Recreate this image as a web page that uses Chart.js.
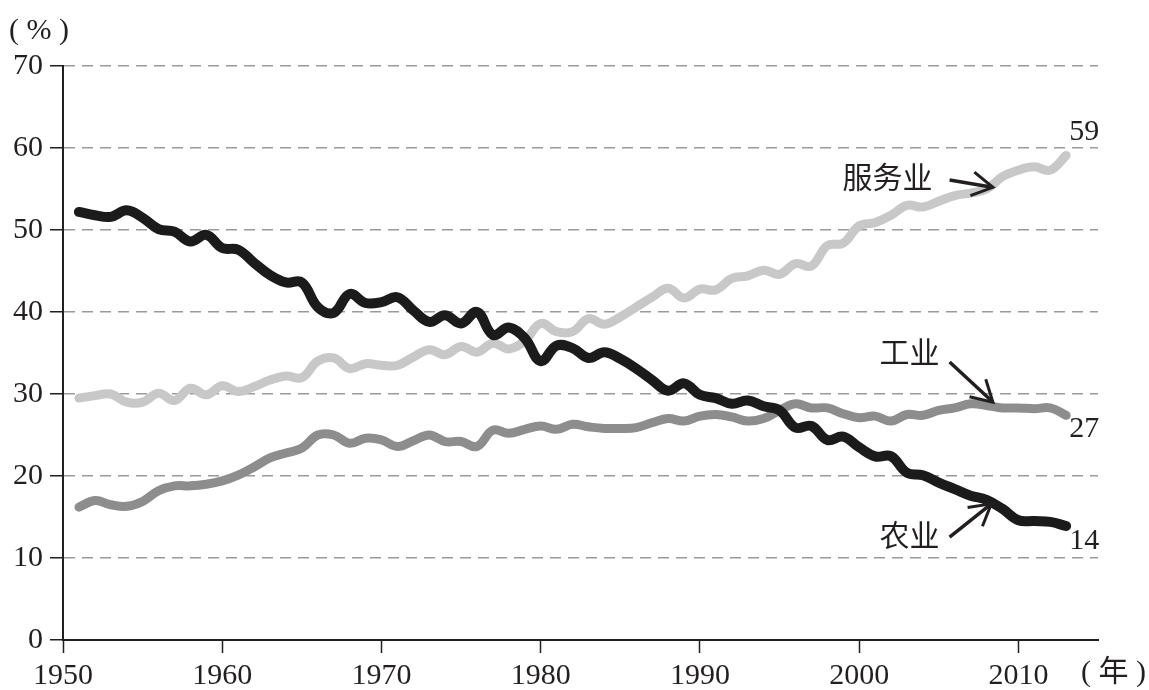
<!DOCTYPE html>
<html><head><meta charset="utf-8">
<script src="https://cdn.jsdelivr.net/npm/chart.js@4.4.1/dist/chart.umd.min.js"></script>
<style>html,body{margin:0;padding:0;background:#fff;}#wrap{width:1149px;height:690px;}</style>
</head><body><div id="wrap"><canvas id="c" width="1149" height="690"></canvas></div>
<script>
const years = [1951,1952,1953,1954,1955,1956,1957,1958,1959,1960,
1961,1962,1963,1964,1965,1966,1967,1968,1969,1970,
1971,1972,1973,1974,1975,1976,1977,1978,1979,1980,
1981,1982,1983,1984,1985,1986,1987,1988,1989,1990,
1991,1992,1993,1994,1995,1996,1997,1998,1999,2000,
2001,2002,2003,2004,2005,2006,2007,2008,2009,2010,
2011,2012,2013];
const agriculture = [52.2,51.8,51.6,52.4,51.5,50.1,49.8,48.6,49.4,47.8,
47.6,46.0,44.5,43.6,43.6,40.6,39.9,42.2,41.1,41.2,
41.8,40.2,38.8,39.6,38.6,40.0,37.2,38.1,36.8,34.0,
35.9,35.6,34.4,35.1,34.3,33.1,31.7,30.4,31.3,29.9,
29.5,28.8,29.2,28.5,28.0,25.9,26.1,24.4,24.8,23.5,
22.4,22.4,20.4,20.1,19.2,18.4,17.6,17.1,16.0,14.6,
14.5,14.4,13.9];
const industry = [16.2,17.0,16.5,16.3,16.9,18.2,18.8,18.8,19.0,19.4,
20.1,21.1,22.2,22.8,23.4,25.0,25.0,24.0,24.6,24.4,
23.6,24.3,25.0,24.2,24.2,23.6,25.6,25.2,25.7,26.1,
25.7,26.3,26.0,25.8,25.8,25.9,26.5,27.0,26.7,27.3,
27.5,27.2,26.7,27.0,28.0,28.8,28.3,28.3,27.6,27.1,
27.3,26.7,27.5,27.4,28.0,28.3,28.8,28.6,28.3,28.3,
28.2,28.3,27.4];
const services = [29.5,29.8,30.0,29.0,29.0,30.1,29.2,30.7,29.9,31.0,
30.3,30.9,31.7,32.2,32.0,34.0,34.4,33.1,33.7,33.5,
33.5,34.5,35.4,34.8,35.8,35.1,36.2,35.5,36.5,38.6,
37.6,37.6,39.2,38.5,39.4,40.6,41.8,42.9,41.7,42.8,
42.7,44.1,44.4,45.1,44.6,45.9,45.6,48.1,48.4,50.5,
50.9,51.8,53.0,52.8,53.5,54.2,54.5,55.0,56.5,57.3,
57.7,57.3,59.1];
const xTicks = [1950,1960,1970,1980,1990,2000,2010];
const yTicks = [0,10,20,30,40,50,60,70];
const seriesNames = ['农业','工业','服务业'];
const endLabels = ['14','27','59'];
const yUnit = '( % )';
const xUnit = '( 年 )';

const SERIF = '"Liberation Serif", "Times New Roman", serif';
const CJK = '"Noto Sans CJK SC", sans-serif';
const TXT = '#231f20';

function pts(vals){ return years.map((yr,i)=>({x:yr,y:vals[i]})); }

function arrow(ctx, x1,y1,x2,y2){
  ctx.lineWidth = 3.5;
  ctx.beginPath(); ctx.moveTo(x1,y1); ctx.lineTo(x2-2*Math.cos(Math.atan2(y2-y1,x2-x1)), y2-2*Math.sin(Math.atan2(y2-y1,x2-x1))); ctx.stroke();
  const a = Math.atan2(y2-y1,x2-x1), L=24, w=0.52;
  ctx.lineWidth = 3;
  ctx.beginPath();
  ctx.moveTo(x2-L*Math.cos(a-w), y2-L*Math.sin(a-w));
  ctx.lineTo(x2,y2);
  ctx.lineTo(x2-L*Math.cos(a+w), y2-L*Math.sin(a+w));
  ctx.stroke();
}

const annot = {
  id:'annot',
  afterDraw(chart){
    const {ctx, scales:{x,y}} = chart;
    const P = (yr,v)=>[x.getPixelForValue(yr), y.getPixelForValue(v)];
    ctx.save();
    ctx.fillStyle = TXT; ctx.strokeStyle = TXT;
    ctx.textBaseline = 'middle';
    ctx.font = '30px ' + SERIF + ', ' + CJK;
    ctx.textAlign = 'left';
    ctx.fillText(yUnit, 9, 31);
    ctx.fillText(xUnit, 1081, 673);
    // end value labels
    const n = years.length-1;
    const xe = x.getPixelForValue(years[n]) + 3;
    ctx.fillText(endLabels[2], xe, y.getPixelForValue(services[n]) - 23);
    ctx.fillText(endLabels[1], xe, y.getPixelForValue(industry[n]) + 14);
    ctx.fillText(endLabels[0], xe, y.getPixelForValue(agriculture[n]) + 15);
    // series names
    ctx.font = '30px ' + CJK;
    ctx.textAlign = 'right';
    let p = P(2004.6, 56.5); ctx.fillText(seriesNames[2], p[0], p[1]);
    p = P(2005.05, 35.2); ctx.fillText(seriesNames[1], p[0], p[1]);
    p = P(2005.05, 12.9); ctx.fillText(seriesNames[0], p[0], p[1]);
    // arrows
    ctx.lineCap='butt'; ctx.lineJoin='miter';
    let a = P(2005.68,56.1), b = P(2008.4,55.2); arrow(ctx,a[0],a[1],b[0],b[1]);
    a = P(2005.68,33.9); b = P(2008.4,29.0); arrow(ctx,a[0],a[1],b[0],b[1]);
    a = P(2005.68,12.55); b = P(2008.3,16.6); arrow(ctx,a[0],a[1],b[0],b[1]);
    ctx.restore();
  }
};

const tickFont = {family:'Liberation Serif', size:30, lineHeight:1};

new Chart(document.getElementById('c'), {
  type:'line',
  data:{datasets:[
    {label:seriesNames[0], data:pts(agriculture), borderColor:'#1b1b1b', borderWidth:10},
    {label:seriesNames[1], data:pts(industry), borderColor:'#8d8d8d', borderWidth:9},
    {label:seriesNames[2], data:pts(services), borderColor:'#c8c8c8', borderWidth:9}
  ]},
  options:{
    responsive:false, animation:false, devicePixelRatio:1,
    layout:{padding:{left:0, right:51, top:66, bottom:0}},
    elements:{point:{radius:0}, line:{tension:0.4, borderCapStyle:'round', borderJoinStyle:'round', fill:false}},
    plugins:{legend:{display:false}, tooltip:{enabled:false}},
    scales:{
      x:{type:'linear', min:1950, max:2015,
        afterBuildTicks:s=>{s.ticks = xTicks.map(v=>({value:v}));},
        afterFit:s=>{s.height = 50;},
        border:{color:TXT, width:2},
        grid:{drawOnChartArea:false, tickLength:13, tickColor:TXT, tickWidth:1.5},
        ticks:{font:tickFont, color:TXT, padding:8, maxRotation:0, autoSkip:false, callback:v=>String(v)}},
      y:{min:0, max:70,
        afterBuildTicks:s=>{s.ticks = yTicks.map(v=>({value:v}));},
        afterFit:s=>{s.width = 63;},
        border:{color:TXT, width:2, dash:[11,7]},
        grid:{color:c=> (c.tick && c.tick.value===0) ? 'rgba(0,0,0,0)' : '#9a9a9a', lineWidth:1.5,
              tickLength:13, tickColor:TXT, tickWidth:1.5, tickBorderDash:[]},
        ticks:{font:tickFont, color:TXT, padding:7, callback:v=>String(v)}}
    }
  },
  plugins:[annot]
});
</script></body></html>
